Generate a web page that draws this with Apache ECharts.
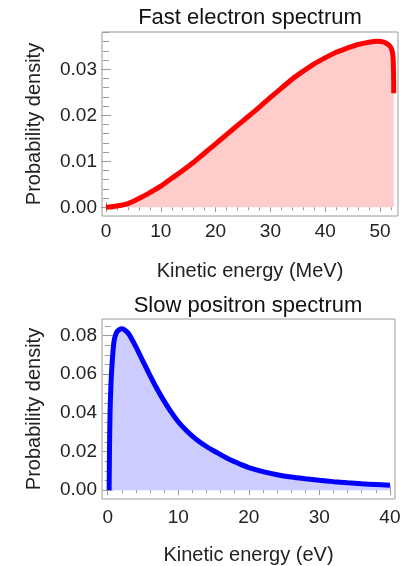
<!DOCTYPE html>
<html>
<head>
<meta charset="utf-8">
<title>Electron and positron spectra</title>
<script src="https://cdn.jsdelivr.net/npm/echarts@6/dist/echarts.min.js"></script>
<style>
  html, body { margin: 0; padding: 0; background: #ffffff; }
  #chart { width: 409px; height: 566px; }
</style>
</head>
<body>
<div id="chart"></div>
<script>
// Fast electron spectrum: kinetic energy (MeV) vs probability density
var electronEnergy = [0, 2, 4, 6, 8, 10, 12, 14, 16, 18, 20, 22, 24, 26, 28, 30, 32, 34, 36, 38, 40, 42, 44, 46, 48, 49.5, 50.7, 51.6, 52.0, 52.3, 52.45, 52.5];
var electronDensity = [0, 0.0003, 0.0008, 0.0019, 0.0032, 0.0046, 0.0063, 0.0080, 0.0098, 0.0118, 0.0138, 0.0158, 0.0178, 0.0198, 0.0218, 0.0239, 0.0259, 0.0279, 0.0296, 0.0312, 0.0325, 0.0337, 0.0346, 0.0354, 0.0359, 0.0361, 0.0359, 0.0353, 0.0347, 0.0335, 0.0305, 0.0248];

// Slow positron spectrum: kinetic energy (eV) vs probability density
var positronEnergy = [0.2, 0.25, 0.33, 0.45, 0.61, 0.89, 1.2, 1.6, 2.0, 2.5, 3, 4, 5, 6, 7, 8, 9, 10, 11, 12, 13, 14, 15, 16, 17, 18, 19, 20, 22, 24, 26, 28, 30, 32, 34, 36, 38, 40];
var positronDensity = [0, 0.020, 0.040, 0.054, 0.065, 0.077, 0.0812, 0.0830, 0.0835, 0.0827, 0.0808, 0.0742, 0.0667, 0.0593, 0.0524, 0.0461, 0.0404, 0.0354, 0.0314, 0.0280, 0.0251, 0.0226, 0.0204, 0.0184, 0.0164, 0.0147, 0.0131, 0.0117, 0.0096, 0.0080, 0.0068, 0.0059, 0.0051, 0.0044, 0.0038, 0.0033, 0.0029, 0.0025];

// Tick labels
var electronTicksX = [0, 10, 20, 30, 40, 50];
var electronTicksY = [0, 0.01, 0.02, 0.03];
var positronTicksX = [0, 10, 20, 30, 40];
var positronTicksY = [0, 0.02, 0.04, 0.06, 0.08];

var titles = ['Fast electron spectrum', 'Slow positron spectrum'];
var xNames = ['Kinetic energy (MeV)', 'Kinetic energy (eV)'];
var yName = 'Probability density';

function steps(from, to, step) {
  var out = [];
  var n = Math.round((to - from) / step);
  for (var i = 0; i <= n; i++) out.push(+(from + i * step).toFixed(6));
  return out;
}

var FRAME = '#9a9a9a';
var TEXT = '#222222';
var FONT = '"Liberation Sans", Arial, sans-serif';

function pair(arrX, arrY) {
  return arrX.map(function (x, i) { return [x, arrY[i]]; });
}

// Builds the four framed axes of one panel (major + minor ticks on each side)
function xAxes(grid, min, max, major, minor, labelMargin, name, nameGap) {
  var base = { type: 'value', gridIndex: grid, min: min, max: max, splitLine: { show: false }, axisLine: { show: false } };
  return [
    Object.assign({}, base, {
      position: 'bottom',
      name: name, nameLocation: 'middle', nameGap: nameGap,
      nameTextStyle: { fontSize: 20, color: TEXT, fontFamily: FONT },
      axisTick: { inside: true, length: 5, customValues: major, lineStyle: { color: FRAME } },
      axisLabel: { customValues: major, margin: labelMargin, fontSize: 19, color: TEXT, fontFamily: FONT,
        formatter: function (v) { return String(Math.round(v)); } }
    }),
    Object.assign({}, base, {
      position: 'bottom',
      axisTick: { inside: true, length: 3, customValues: minor, lineStyle: { color: FRAME } },
      axisLabel: { show: false }
    }),
    Object.assign({}, base, {
      position: 'top',
      axisTick: { inside: true, length: 5, customValues: major, lineStyle: { color: FRAME } },
      axisLabel: { show: false }
    }),
    Object.assign({}, base, {
      position: 'top',
      axisTick: { inside: true, length: 3, customValues: minor, lineStyle: { color: FRAME } },
      axisLabel: { show: false }
    })
  ];
}

function yAxes(grid, min, max, major, minor, labelMargin) {
  var base = { type: 'value', gridIndex: grid, min: min, max: max, splitLine: { show: false }, axisLine: { show: false } };
  return [
    Object.assign({}, base, {
      position: 'left',
      name: yName, nameLocation: 'middle', nameGap: 58, nameRotate: 90,
      nameTextStyle: { fontSize: 20, color: TEXT, fontFamily: FONT },
      axisTick: { inside: true, length: 5, customValues: major, lineStyle: { color: FRAME } },
      axisLabel: { customValues: major, margin: labelMargin, fontSize: 19, color: TEXT, fontFamily: FONT,
        formatter: function (v) { return v.toFixed(2); } }
    }),
    Object.assign({}, base, {
      position: 'left',
      axisTick: { inside: true, length: 3, customValues: minor, lineStyle: { color: FRAME } },
      axisLabel: { show: false }
    }),
    Object.assign({}, base, {
      position: 'right',
      axisTick: { inside: true, length: 5, customValues: major, lineStyle: { color: FRAME } },
      axisLabel: { show: false }
    }),
    Object.assign({}, base, {
      position: 'right',
      axisTick: { inside: true, length: 3, customValues: minor, lineStyle: { color: FRAME } },
      axisLabel: { show: false }
    })
  ];
}

var chart = echarts.init(document.getElementById('chart'), null, { renderer: 'canvas' });

var option = {
  animation: false,
  backgroundColor: '#ffffff',
  title: [
    { text: titles[0], left: 250, top: 7, textAlign: 'center', padding: 0,
      textStyle: { fontSize: 22, fontWeight: 'normal', color: '#111', fontFamily: FONT } },
    { text: titles[1], left: 248, top: 295, textAlign: 'center', padding: 0,
      textStyle: { fontSize: 22, fontWeight: 'normal', color: '#111', fontFamily: FONT } }
  ],
  grid: [
    { left: 102, top: 32, width: 296, height: 184, show: true, borderColor: FRAME, borderWidth: 1, backgroundColor: 'transparent' },
    { left: 102, top: 319, width: 293, height: 183, show: true, borderColor: FRAME, borderWidth: 1, backgroundColor: 'transparent' }
  ],
  xAxis: [].concat(
    xAxes(0, -0.73, 53.28, electronTicksX, steps(0, 52, 2), 6, xNames[0], 45),
    xAxes(1, -0.81, 40.72, positronTicksX, steps(0, 40, 2), 9, xNames[1], 46)
  ),
  yAxis: [].concat(
    yAxes(0, -0.00189, 0.03811, electronTicksY, steps(0, 0.038, 0.002), 5),
    yAxes(1, -0.00459, 0.0886, positronTicksY, steps(0, 0.085, 0.005), 5)
  ),
  series: [
    {
      type: 'line', xAxisIndex: 0, yAxisIndex: 0,
      data: pair(electronEnergy, electronDensity),
      showSymbol: false, smooth: 0.3,
      lineStyle: { color: '#ff0000', width: 5 },
      areaStyle: { color: '#ffcccc', opacity: 1, origin: 0 }
    },
    {
      type: 'line', xAxisIndex: 4, yAxisIndex: 4,
      data: pair(positronEnergy, positronDensity),
      showSymbol: false, smooth: 0.3,
      lineStyle: { color: '#0000ff', width: 5 },
      areaStyle: { color: '#ccccff', opacity: 1, origin: 0 }
    }
  ]
};

chart.setOption(option);
</script>
</body>
</html>
